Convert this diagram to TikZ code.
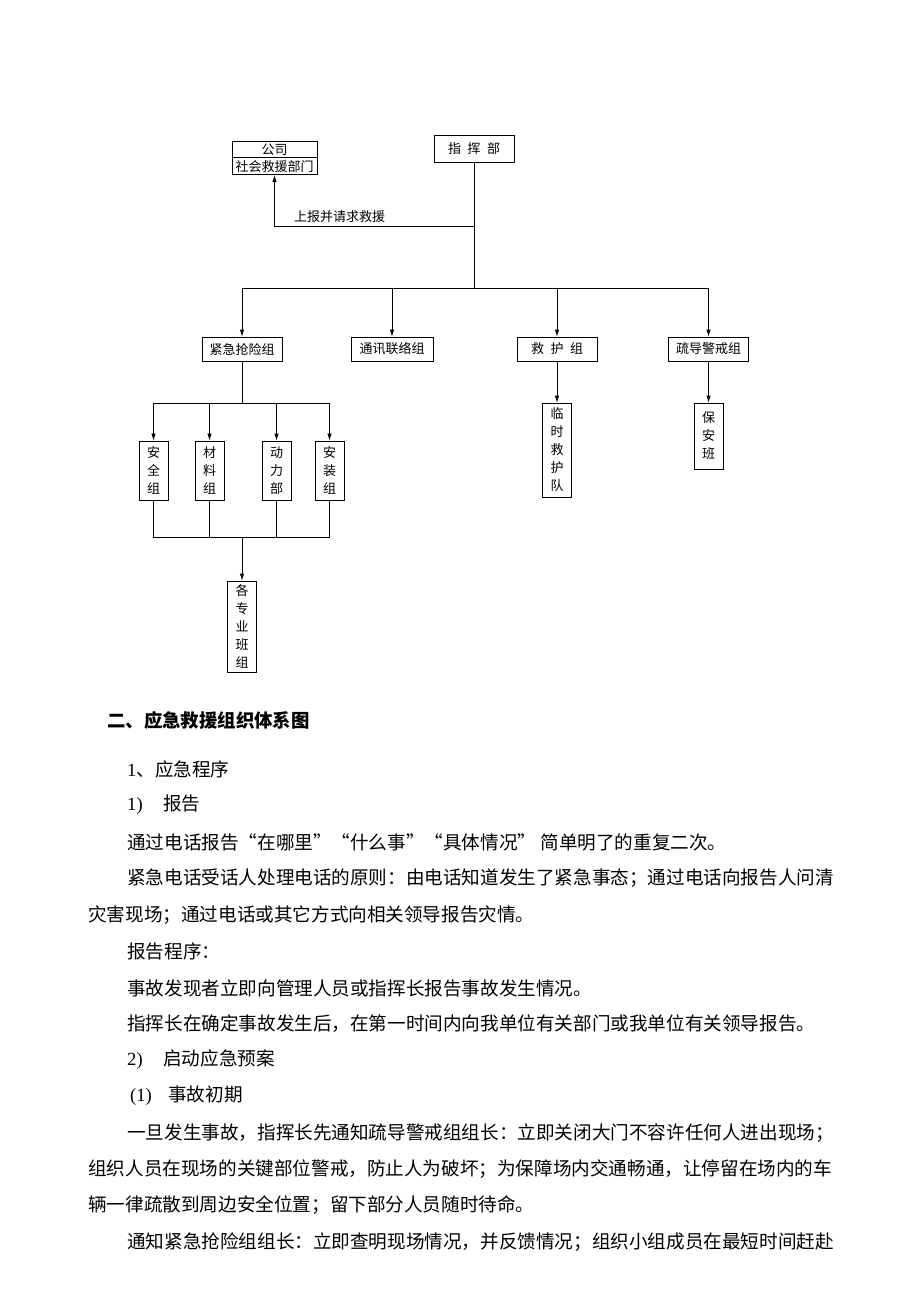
\documentclass[tikz,border=0pt]{standalone}
\usepackage{fontspec}
\setmainfont{Liberation Serif}
\newfontfamily\cjk{Noto Sans CJK SC}
\usetikzlibrary{arrows.meta,shapes.multipart}
\begin{document}
\begin{tikzpicture}[x=1pt,y=-1pt,
  box/.style={draw, line width=0.8pt, inner sep=0pt, align=center,
    font=\cjk\fontsize{13}{18}\selectfont},
  hbox/.style={box, minimum width=80pt, minimum height=25pt},
  vbox/.style={box, minimum width=29pt},
  ln/.style={line width=0.8pt},
  arr/.style={ln, -{Latex[length=7pt,width=4.5pt]}},
  body/.style={anchor=west, inner sep=0pt, font=\cjk\fontsize{18.6}{22}\selectfont},
  lbl/.style={inner sep=0pt, font=\cjk\fontsize{13}{15}\selectfont}]
\useasboundingbox (0,0) rectangle (920,1302);
% ---------- diagram ----------
\node[hbox, minimum height=27pt] (zhb) at (474,148.5) {指\hspace{0.5em}挥\hspace{0.5em}部};
\node[draw, line width=0.8pt, rectangle split, rectangle split parts=2,
      inner xsep=2pt, inner ysep=2pt, minimum width=85pt, anchor=south,
      font=\cjk\fontsize{13}{15}\selectfont] (gs) at (274.5,175) {公司\nodepart{two}社会救援部门};
\node[lbl] (sb) at (339.5,217) {上报并请求救援};
\coordinate (j0) at (474,226);
\coordinate (b1) at (474,288);
\draw[ln] (zhb.south) -- (b1);
\draw[arr] (j0) -| (gs.south);

\node[hbox, minimum height=24pt] (jj) at (242,349) {紧急抢险组};
\node[hbox, minimum height=24pt, minimum width=82pt] (tx) at (392,349) {通讯联络组};
\node[hbox, minimum height=24pt] (jh) at (557,349) {救\hspace{0.5em}护\hspace{0.5em}组};
\node[hbox, minimum height=24pt] (sd) at (708.5,349) {疏导警戒组};
\draw[arr] (b1) -| (jj.north);
\draw[arr] (b1) -| (tx.north);
\draw[arr] (b1) -| (jh.north);
\draw[arr] (b1) -| (sd.north);

\coordinate (b2) at (242,403);
\node[vbox, minimum height=59pt] (aq) at (153.5,470.5) {安\\全\\组};
\node[vbox, minimum height=59pt] (cl) at (209.5,470.5) {材\\料\\组};
\node[vbox, minimum height=59pt] (dl) at (276.5,470.5) {动\\力\\部};
\node[vbox, minimum height=59pt] (az) at (329.5,470.5) {安\\装\\组};
\draw[ln] (jj.south) -- (b2);
\draw[arr] (b2) -| (aq.north);
\draw[arr] (b2) -| (cl.north);
\draw[arr] (b2) -| (dl.north);
\draw[arr] (b2) -| (az.north);

\coordinate (b3) at (242,537);
\node[vbox, minimum height=91pt] (gz) at (242,626.5) {各\\专\\业\\班\\组};
\draw[ln] (aq.south) |- (b3);
\draw[ln] (cl.south) |- (b3);
\draw[ln] (dl.south) |- (b3);
\draw[ln] (az.south) |- (b3);
\draw[arr] (b3) -- (gz.north);

\node[vbox, minimum height=94pt] (lj) at (557,450) {临\\时\\救\\护\\队};
\node[vbox, minimum height=66pt] (ba) at (708.5,436) {保\\安\\班};
\draw[arr] (jh.south) -- (lj.north);
\draw[arr] (sd.south) -- (ba.north);

% ---------- text ----------
\node[body, font=\cjk\bfseries\fontsize{18.4}{22}\selectfont] (t0) at (107,720) {二、应急救援组织体系图};
\node[body] (t1) at (127,769) {{\rmfamily 1}、应急程序};
\node[body] (t2) at (127,805) {\makebox[36pt][l]{\rmfamily 1)}报告};
\node[body] (t3) at (127,842) {通过电话报告“在哪里”“什么事”“具体情况” 简单明了的重复二次。};
\node[body] (t4) at (127,878) {紧急电话受话人处理电话的原则：由电话知道发生了紧急事态；通过电话向报告人问清};
\node[body] (t5) at (88,915) {灾害现场；通过电话或其它方式向相关领导报告灾情。};
\node[body] (t6) at (127,951) {报告程序：};
\node[body] (t7) at (127,988) {事故发现者立即向管理人员或指挥长报告事故发生情况。};
\node[body] (t8) at (127,1024) {指挥长在确定事故发生后，在第一时间内向我单位有关部门或我单位有关领导报告。};
\node[body] (t9) at (127,1060) {\makebox[36pt][l]{\rmfamily 2)}启动应急预案};
\node[body] (t10) at (130,1096) {\makebox[38pt][l]{\rmfamily (1)}事故初期};
\node[body] (t11) at (127,1133) {一旦发生事故，指挥长先通知疏导警戒组组长：立即关闭大门不容许任何人进出现场；};
\node[body] (t12) at (88,1169) {组织人员在现场的关键部位警戒，防止人为破坏；为保障场内交通畅通，让停留在场内的车};
\node[body] (t13) at (88,1205) {辆一律疏散到周边安全位置；留下部分人员随时待命。};
\node[body] (t14) at (127,1242) {通知紧急抢险组组长：立即查明现场情况，并反馈情况；组织小组成员在最短时间赶赴};
\end{tikzpicture}
\end{document}
